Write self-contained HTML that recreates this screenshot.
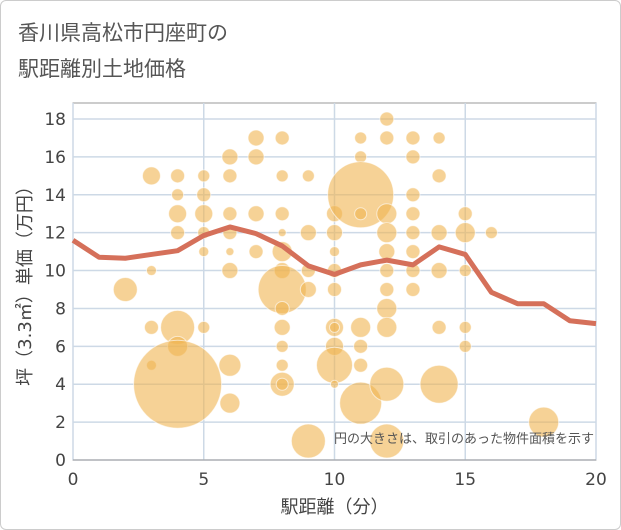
<!DOCTYPE html><html><head><meta charset="utf-8"><style>
body{margin:0;background:#fff}
#w{width:619px;height:528px;border:1px solid #ccc;border-radius:6px;position:relative;font-family:"DejaVu Sans","Noto Sans CJK JP",sans-serif}
</style></head><body>
<div id="w">
<svg id="s" width="621" height="530" style="position:absolute;left:-1px;top:-1px">
<text x="18" y="40" font-size="21" fill="#555" font-family="Noto Sans CJK JP,sans-serif">香川県高松市円座町の</text>
<text x="18" y="76" font-size="21" fill="#555" font-family="Noto Sans CJK JP,sans-serif">駅距離別土地価格</text>
</svg></div>
<script>
const xTicks=[0,5,10,15,20];
const yTicks=[0,2,4,6,8,10,12,14,16,18];
const lineX=[0,1,2,3,4,5,6,7,8,9,10,11,12,13,14,15,16,17,18,19,20];
const lineY=[11.6,10.7,10.65,10.85,11.05,11.85,12.3,11.95,11.3,10.25,9.8,10.3,10.55,10.3,11.25,10.85,8.85,8.25,8.25,7.35,7.2];
const bx=[2,3,3,3,3,4,4,4,4,4,4,4,5,5,5,5,5,5,6,6,6,6,6,6,6,6,7,7,7,7,8,8,8,8,8,8,8,8,8,8,8,8,8,9,9,9,9,9,10,10,10,10,10,10,10,10,10,10,11,11,11,11,11,11,11,11,12,12,12,12,12,12,12,12,12,12,12,13,13,13,13,13,13,13,13,14,14,14,14,14,14,15,15,15,15,15,16,18];
const by=[9,15,10,7,5,15,14,13,12,7,6,4,15,14,13,12,11,7,16,15,13,12,11,10,5,3,17,16,13,11,17,15,13,12,11,10,9,8,7,6,5,4,4,15,12,10,9,1,13,12,11,10,9,7,7,6,5,4,17,16,14,13,7,6,5,3,18,17,13,12,11,10,9,8,7,4,1,17,16,14,13,12,11,10,9,17,15,12,10,7,4,13,12,10,7,6,12,2];
const br=[12,9,5,7,5,7,6,9,7,17,10,44,6,7,9,6,5,6,8,7,7,7,4,8,11,10,8,8,8,7,7,6,7,4,10,8,24,7,8,6,6,12,6,6,8,7,8,17,8,8,5,7,7,9,5,9,18,4,6,6,33,6,10,7,7,21,7,7,10,10,8,7,7,10,10,17,17,7,7,7,7,7,7,7,7,6,7,8,8,7,19,7,10,6,6,6,6,15];
const L=73,R=596,T=103,B=460;
const X=v=>L+(R-L)*v/20, Y=v=>B-(B-119)*v/18;
const s=document.getElementById('s'),NS='http://www.w3.org/2000/svg';
function mk(t,a,p){const e=document.createElementNS(NS,t);for(const k in a)e.setAttribute(k,a[k]);(p||s).appendChild(e);return e;}
const bg=mk('rect',{x:L,y:T,width:R-L,height:B-T,fill:'#fff',stroke:'#999'});


yTicks.forEach(v=>{const g=mk('line',{x1:L,x2:R,y1:Y(v),y2:Y(v),stroke:'#cdd9e6','stroke-width':1.5});


const t=mk('text',{x:L-7,y:Y(v)+6,'text-anchor':'end','font-size':17,fill:'#444'});t.textContent=v;

});
xTicks.forEach(v=>{const g=mk('line',{x1:X(v),x2:X(v),y1:T,y2:B,stroke:'#cdd9e6','stroke-width':1.5});


const t=mk('text',{x:X(v),y:B+25,'text-anchor':'middle','font-size':17,fill:'#444'});t.textContent=v;

});
bx.forEach((v,i)=>{const c=mk('circle',{cx:X(v),cy:Y(by[i]),r:br[i],fill:'rgba(240,180,80,0.6)',stroke:'#fff','stroke-width':1,'stroke-opacity':0.6});

});
const pl=mk('polyline',{points:lineX.map((v,i)=>X(v)+','+Y(lineY[i])).join(' '),fill:'none',stroke:'#d5705a','stroke-width':5,'stroke-linejoin':'round'});


mk('line',{x1:L,x2:R,y1:B,y2:B,stroke:'#999'});
const n=mk('text',{x:594,y:443,'text-anchor':'end','font-size':13,fill:'#555'});n.textContent='円の大きさは、取引のあった物件面積を示す';


const xt=mk('text',{x:(L+R)/2,y:513,'text-anchor':'middle','font-size':18,fill:'#444'});xt.textContent='駅距離（分）';


const yt=mk('text',{x:0,y:0,'text-anchor':'middle','font-size':18,fill:'#444',transform:'translate(31,'+((T+B)/2)+') rotate(-90)'});yt.textContent='坪（3.3㎡）単価（万円）';


</script></body></html>
